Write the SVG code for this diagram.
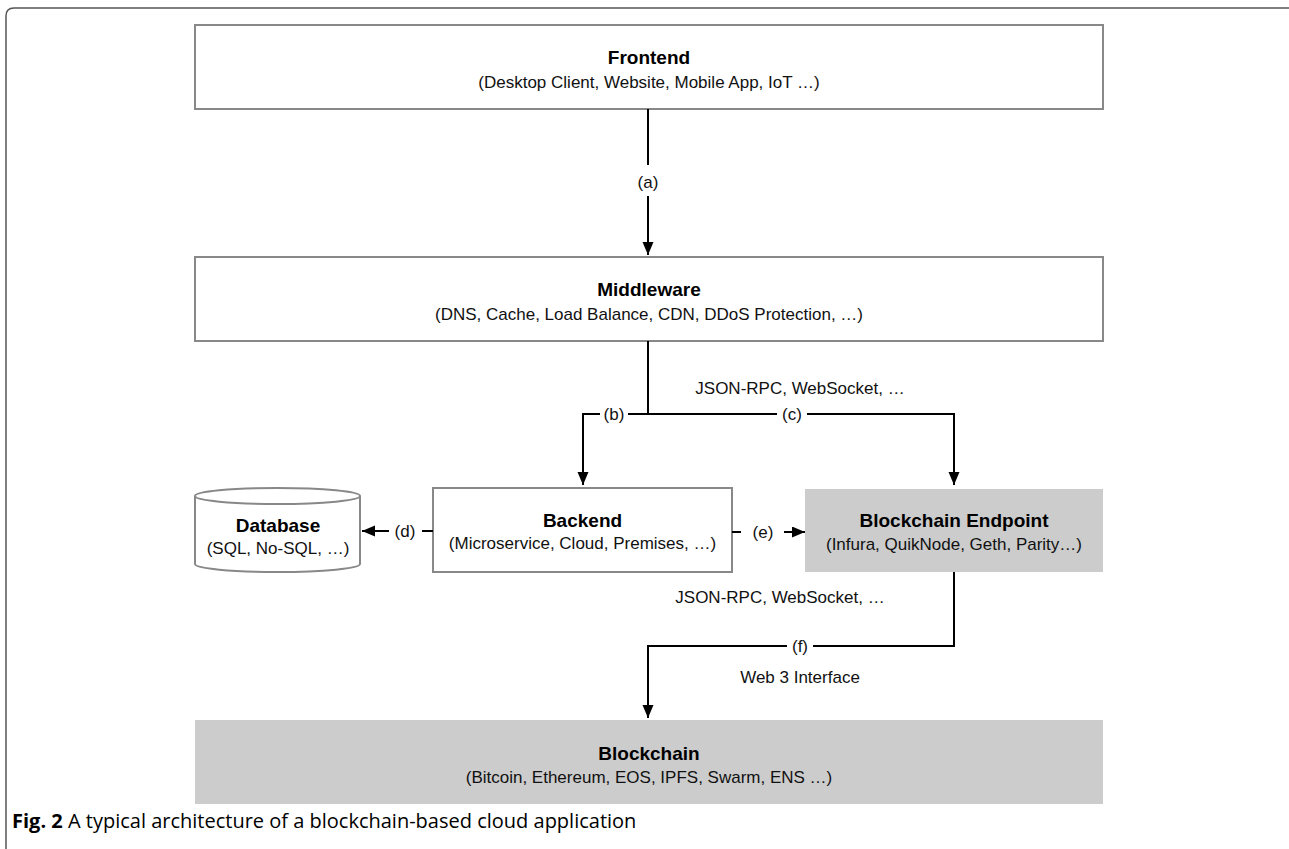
<svg xmlns="http://www.w3.org/2000/svg" width="1289" height="849" viewBox="0 0 1289 849">
<defs>
<marker id="ah" markerUnits="userSpaceOnUse" markerWidth="14" markerHeight="12" refX="13" refY="5.5" orient="auto">
<path d="M0,0 L13,5.5 L0,11 z" fill="#000"/>
</marker>
<style>
.box{fill:#fff;stroke:#888;stroke-width:2}
.gbox{fill:#cccccc;stroke:none}
.title{font-family:"Liberation Sans",Arial,sans-serif;font-weight:bold;font-size:19px;fill:#000;text-anchor:middle}
.sub{font-family:"Liberation Sans",Arial,sans-serif;font-size:17px;fill:#111;text-anchor:middle}
.lbl{font-family:"Liberation Sans",Arial,sans-serif;font-size:17px;fill:#111;text-anchor:middle}
.conn path{fill:none;stroke:#000;stroke-width:2}
.cap{font-family:"Open Sans","Noto Sans",sans-serif;font-size:20px;fill:#000}
</style>
</defs>
<rect width="1289" height="849" fill="#fff"/>
<path d="M1289,8 H14 Q6,8 6,16 V849" fill="none" stroke="#555" stroke-width="1.5"/>

<g id="frontend">
<rect class="box" x="195" y="25" width="908" height="84"/>
<text class="title" x="649" y="64">Frontend</text>
<text class="sub" x="649" y="88">(Desktop Client, Website, Mobile App, IoT …)</text>
</g>

<g id="middleware">
<rect class="box" x="195" y="257" width="908" height="84"/>
<text class="title" x="649" y="296">Middleware</text>
<text class="sub" x="649" y="320">(DNS, Cache, Load Balance, CDN, DDoS Protection, …)</text>
</g>

<g id="database">
<path class="box" d="M195,496 V564 A82.5,8 0 0 0 360,564 V496"/>
<ellipse class="box" cx="277.5" cy="496" rx="82.5" ry="8"/>
<text class="title" x="278" y="532">Database</text>
<text class="sub" x="278" y="554">(SQL, No-SQL, …)</text>
</g>

<g id="backend">
<rect class="box" x="433" y="488" width="299" height="84"/>
<text class="title" x="582.5" y="527">Backend</text>
<text class="sub" x="582.5" y="549">(Microservice, Cloud, Premises, …)</text>
</g>

<g id="endpoint">
<rect class="gbox" x="805" y="489" width="298" height="83"/>
<text class="title" x="954" y="527">Blockchain Endpoint</text>
<text class="sub" x="954" y="550">(Infura, QuikNode, Geth, Parity…)</text>
</g>

<g id="blockchain">
<rect class="gbox" x="195" y="720" width="908" height="84"/>
<text class="title" x="649" y="760">Blockchain</text>
<text class="sub" x="649" y="783">(Bitcoin, Ethereum, EOS, IPFS, Swarm, ENS …)</text>
</g>

<g id="connectors" class="conn">
<path d="M648,109 V165"/>
<path d="M648,196 V255" marker-end="url(#ah)"/>
<path d="M648,341 V414 H628"/>
<path d="M600,414 H583 V485" marker-end="url(#ah)"/>
<path d="M648,414 H777"/>
<path d="M807,414 H954 V485" marker-end="url(#ah)"/>
<path d="M433,531 H422"/>
<path d="M389,531 H362" marker-end="url(#ah)"/>
<path d="M732,532 H741"/>
<path d="M784,532 H805" marker-end="url(#ah)"/>
<path d="M954,572 V646 H813"/>
<path d="M787,646 H648 V718" marker-end="url(#ah)"/>
</g>

<g id="labels">
<text class="lbl" x="648" y="188">(a)</text>
<text class="lbl" x="800" y="394">JSON-RPC, WebSocket, …</text>
<text class="lbl" x="614" y="420">(b)</text>
<text class="lbl" x="792" y="420">(c)</text>
<text class="lbl" x="405" y="537">(d)</text>
<text class="lbl" x="763" y="538">(e)</text>
<text class="lbl" x="780" y="603">JSON-RPC, WebSocket, …</text>
<text class="lbl" x="800" y="652">(f)</text>
<text class="lbl" x="800" y="683">Web 3 Interface</text>
</g>

<text class="cap" x="12" y="828"><tspan font-weight="bold">Fig. 2</tspan> A typical architecture of a blockchain-based cloud application</text>
</svg>
